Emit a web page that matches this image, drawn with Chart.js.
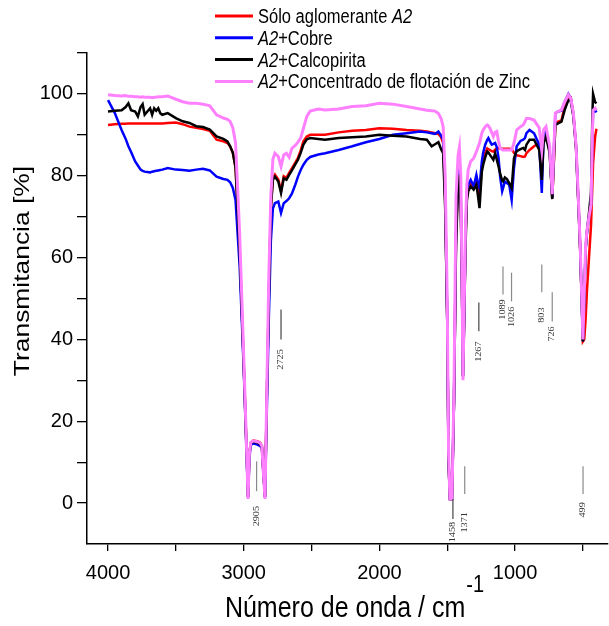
<!DOCTYPE html>
<html lang="es">
<head>
<meta charset="UTF-8">
<title>Espectros FTIR - aglomerante A2</title>
<script src="https://cdn.jsdelivr.net/npm/chart.js@4.4.2/dist/chart.umd.min.js"></script>
<style>
  html, body { margin: 0; padding: 0; background: #fff; }
  canvas { display: block; }
</style>
</head>
<body>
<canvas id="grafico" width="609" height="626"></canvas>
<script>
// numero de onda (cm-1), compartido por las cuatro curvas
const numeroOnda = [
  4000, 3950, 3900, 3870, 3850, 3830, 3800, 3780, 3760, 3745,
  3730, 3710, 3690, 3675, 3660, 3645, 3630, 3615, 3600, 3560,
  3500, 3450, 3400, 3350, 3300, 3250, 3200, 3150, 3120, 3100,
  3080, 3060, 3030, 3000, 2983, 2968, 2958, 2948, 2930, 2900,
  2880, 2866, 2856, 2843, 2830, 2815, 2800, 2785, 2770, 2745,
  2725, 2705, 2685, 2665, 2645, 2620, 2600, 2580, 2560, 2535,
  2510, 2450, 2400, 2300, 2200, 2100, 2000, 1900, 1800, 1700,
  1650, 1615, 1590, 1565, 1545, 1530, 1515, 1500, 1490, 1480,
  1465, 1450, 1435, 1420, 1410, 1400, 1392, 1384, 1375, 1365,
  1355, 1345, 1327, 1305, 1285, 1275, 1262, 1245, 1235, 1220,
  1205, 1197, 1185, 1172, 1160, 1147, 1135, 1122, 1110, 1095,
  1088, 1075, 1060, 1043, 1025, 1008, 995, 988, 960, 940,
  927, 916, 893, 860, 822, 803, 790, 772, 745, 726,
  713, 703, 683, 658, 634, 607, 590, 570, 550, 540,
  530, 520, 510, 500, 490, 480, 470, 455, 440, 430,
  425, 410, 400
];

// transmitancia (%)
const soloA2 = [
  92.4, 92.6, 92.7, 92.7, 92.8, 92.8, 92.8, 92.8, 92.8, 92.8,
  92.8, 92.8, 92.8, 92.8, 92.8, 92.8, 92.8, 92.8, 92.8, 92.9,
  93.0, 92.6, 92.0, 91.7, 91.4, 91.0, 88.8, 88.4, 88.0, 87.2,
  85.6, 82.0, 62, 34, 17, 1.5, 12, 14.8, 15.3, 15.1,
  14.8, 14.0, 8, 1.5, 25, 50, 72, 79.5, 80.3, 79.1,
  76.3, 79.9, 79.5, 80.7, 81.8, 83.2, 84.4, 86.2, 88.4, 89.6,
  90.0, 90.0, 90.0, 90.6, 91.0, 91.2, 91.6, 91.5, 91.2, 91.0,
  90.8, 90.6, 90.4, 90.2, 89.4, 88.0, 74, 45, 10, 1,
  1, 25, 65, 79, 81.1, 74, 55, 31, 45, 65,
  75, 77.0, 78.0, 77.4, 78.6, 77.0, 75.0, 82.0, 84.0, 85.6,
  86.7, 86.5, 86.3, 86.0, 85.9, 86.4, 86.7, 86.7, 86.6, 86.6,
  86.6, 86.6, 86.6, 86.6, 86.5, 85.6, 85.1, 85.0, 84.8, 84.6,
  84.7, 85.5, 86.3, 87.2, 88.0, 87.5, 89.0, 90.0, 86.0, 74.5,
  84.0, 92.8, 93.2, 93.5, 97.0, 99.3, 99.2, 95.0, 87.0, 79.0,
  71.0, 62.0, 51.0, 39.5, 40.0, 45.0, 52.0, 60.0, 68.0, 78.0,
  83.0, 89.5, 91.5
];
const a2Cobre = [
  98.5, 95.3, 91.2, 89.0, 87.2, 85.8, 83.5, 82.5, 81.5, 81.2,
  81.0, 80.9, 80.8, 81.0, 81.1, 81.2, 81.3, 81.4, 81.5, 81.9,
  81.5, 81.4, 81.2, 81.5, 81.7, 81.3, 79.8, 79.2, 79.0, 78.4,
  77.0, 74.0, 58, 33, 16, 1.5, 11, 14.2, 14.6, 14.3,
  14.0, 13.5, 8, 1.5, 22, 45, 64, 72, 73.3, 73.7,
  70.9, 73.3, 73.8, 74.5, 75.6, 77.8, 79.8, 81.4, 82.7, 83.9,
  84.6, 85.2, 85.5, 86.3, 87.2, 88.2, 89.0, 90.0, 90.4, 90.8,
  90.6, 90.4, 90.2, 90.8, 89.8, 88.8, 75, 45, 10, 1,
  1, 25, 66, 80, 82.3, 75, 55, 31, 45, 66,
  76, 77.8, 79.0, 77.4, 80.2, 78.5, 77.0, 83.5, 85.6, 87.6,
  88.8, 89.2, 88.4, 87.6, 87.8, 88.0, 87.0, 84.5, 79.8, 76.2,
  77.0, 78.6, 78.2, 77.8, 74.1, 81.9, 85.5, 87.2, 88.5, 88.8,
  89.2, 90.4, 91.2, 90.4, 87.6, 75.8, 89.6, 91.2, 86.3, 74.6,
  87.2, 95.3, 95.7, 95.9, 98.1, 100.0, 99.0, 94.9, 87.0, 79.0,
  71.0, 62.5, 51.0, 39.5, 50.0, 62.0, 66.0, 70.0, 73.0, 89.0,
  95.5, 96.0, 95.5
];
const a2Calcopirita = [
  95.7, 95.9, 96.0, 96.8, 97.7, 96.0, 95.7, 94.5, 96.8, 97.5,
  94.9, 95.7, 96.5, 94.9, 96.5, 95.9, 96.5, 95.3, 94.9, 95.3,
  94.1, 93.3, 92.9, 92.1, 91.9, 91.3, 89.6, 89.0, 88.4, 87.2,
  85.6, 82.0, 62, 34, 17, 1.5, 12, 14.6, 15.0, 14.8,
  14.5, 13.8, 8, 1.5, 25, 50, 72, 79, 79.8, 78.6,
  75.8, 79.4, 79.0, 80.2, 81.3, 82.8, 83.9, 85.6, 87.6, 88.9,
  89.2, 89.0, 88.8, 89.2, 89.4, 89.6, 90.0, 89.8, 89.6, 89.0,
  88.8, 87.2, 87.7, 88.2, 86.5, 85.5, 72, 45, 10, 1,
  1, 25, 63, 78, 80.2, 72, 55, 31, 45, 63,
  74, 76.2, 77.4, 76.6, 77.8, 75.5, 72.1, 81.0, 82.7, 84.5,
  85.9, 85.7, 85.1, 84.5, 83.9, 85.5, 84.0, 82.3, 80.5, 78.8,
  78.6, 79.6, 79.2, 78.2, 77.0, 84.3, 85.5, 86.0, 86.5, 86.8,
  86.3, 87.6, 88.8, 88.8, 86.3, 79.0, 88.0, 89.6, 85.5, 74.3,
  84.7, 92.4, 92.8, 93.2, 96.1, 98.5, 98.3, 94.5, 86.3, 78.0,
  70.5, 62.0, 51.0, 39.5, 50.0, 62.0, 66.5, 71.0, 76.0, 95.0,
  100.0, 98.0, 97.7
];
const a2Zinc = [
  99.8, 99.6, 99.5, 99.6, 99.4, 99.4, 99.3, 99.3, 99.2, 99.3,
  99.2, 99.2, 99.2, 99.1, 99.2, 99.2, 99.3, 99.3, 99.3, 99.5,
  98.7, 98.1, 97.7, 97.7, 97.5, 97.1, 94.9, 94.1, 93.8, 93.3,
  91.7, 88.0, 66, 36, 18, 1, 12, 14.8, 15.2, 15.0,
  14.7, 14.0, 8, 1, 27, 55, 75, 84, 85.5, 84.7,
  82.3, 85.1, 85.5, 84.5, 86.7, 87.4, 88.2, 89.2, 91.6, 94.5,
  95.8, 96.3, 96.1, 96.3, 96.9, 97.1, 97.7, 97.5, 96.9, 96.3,
  96.0, 95.9, 95.8, 95.2, 94.0, 92.0, 80, 50, 12, 1,
  1, 28, 75, 85, 87, 80, 58, 30, 48, 68,
  78, 81.5, 83.5, 84.3, 85.9, 86.8, 88.0, 90.4, 91.2, 92.0,
  92.4, 92.2, 91.6, 90.6, 89.6, 90.6, 90.8, 88.5, 86.7, 86.4,
  86.3, 86.3, 86.3, 86.3, 86.3, 88.0, 90.0, 91.2, 92.0, 92.4,
  93.2, 94.0, 94.0, 93.6, 91.7, 86.3, 91.2, 92.0, 87.2, 75.5,
  87.5, 95.3, 95.7, 96.1, 98.1, 99.8, 99.0, 95.3, 87.2, 79.5,
  71.5, 63.0, 52.0, 40.0, 51.0, 63.0, 66.5, 70.0, 73.0, 90.0,
  96.0, 96.5, 96.0
];

// nombres de la leyenda (*...* = cursiva)
const nombres = [
  'Sólo aglomerante *A2*',
  '*A2*+Cobre',
  '*A2*+Calcopirita',
  '*A2*+Concentrado de flotación de Zinc'
];
const colores = ['#ff0000', '#0000ff', '#000000', '#ff80ff'];

// ticks de los ejes
const ticksX = [4000, 3500, 3000, 2500, 2000, 1500, 1000, 500];
const etiquetasX = [4000, 3000, 2000, 1000];
const ticksY = [0, 10, 20, 30, 40, 50, 60, 70, 80, 90, 100, 110];
const etiquetasY = [0, 20, 40, 60, 80, 100];

// bandas marcadas: numero de onda, tramo de la raya y donde empieza el rotulo (en % T)
const bandas = [2905, 2725, 1458, 1371, 1267, 1089, 1026, 803, 726, 499];
const bandaDesde = [10.2, 47.3, 1.0, 9.0, 49.0, 57.8, 56.3, 58.3, 51.5, 9.0];
const bandaHasta = [2.9, 40.0, -3.9, 2.2, 42.0, 51.0, 49.3, 51.5, 44.4, 2.2];
const bandaRotulo = [-0.7, 37.6, -4.6, -2.2, 39.5, 49.8, 48.0, 47.8, 43.2, 0.2];
const bandaOscura = [false, true, true, false, true, false, false, false, false, false];

const series = [soloA2, a2Cobre, a2Calcopirita, a2Zinc];
const orden = [3, 2, 1, 0];   // rosa encima, luego negro, azul, rojo

const FUENTE = '"Liberation Sans", Arial, sans-serif';
const ESTIRA = 1.2;   // el texto del original esta algo estirado en vertical

function textoEstirado(ctx, texto, x, y, font, align) {
  ctx.save();
  ctx.translate(x, y);
  ctx.scale(1, ESTIRA);
  ctx.font = font;
  ctx.textAlign = align || 'left';
  ctx.textBaseline = 'alphabetic';
  ctx.fillText(texto, 0, 0);
  ctx.restore();
}

const decoracion = {
  id: 'decoracion',
  afterDraw(chart) {
    const ctx = chart.ctx;
    const sx = chart.scales.x, sy = chart.scales.y;
    const area = chart.chartArea;

    // rayas y rotulos de bandas
    bandas.forEach((b, i) => {
      const x = sx.getPixelForValue(b);
      ctx.save();
      ctx.strokeStyle = bandaOscura[i] ? '#444' : '#8a8a8a';
      ctx.lineWidth = 1.2;
      ctx.beginPath();
      ctx.moveTo(x, sy.getPixelForValue(bandaDesde[i]));
      ctx.lineTo(x, sy.getPixelForValue(bandaHasta[i]));
      ctx.stroke();
      ctx.translate(x, sy.getPixelForValue(bandaRotulo[i]));
      ctx.rotate(-Math.PI / 2);
      ctx.scale(ESTIRA, 1);
      ctx.fillStyle = '#333';
      ctx.font = '8.5px "Liberation Serif", "Times New Roman", serif';
      ctx.textAlign = 'right';
      ctx.textBaseline = 'middle';
      ctx.fillText(String(b), 0, 0);
      ctx.restore();
    });

    // leyenda
    nombres.forEach((nombre, i) => {
      const yc = 16 + i * 21.8;
      ctx.save();
      ctx.strokeStyle = colores[i];
      ctx.lineWidth = 3;
      ctx.beginPath();
      ctx.moveTo(215, yc);
      ctx.lineTo(253, yc);
      ctx.stroke();
      ctx.fillStyle = '#000';
      let x = 258;
      nombre.split('*').forEach((trozo, k) => {
        if (!trozo) return;
        const font = (k % 2 ? 'italic ' : '') + '16.5px ' + FUENTE;
        ctx.font = font;
        const w = ctx.measureText(trozo).width;
        textoEstirado(ctx, trozo, x, yc + 7, font);
        x += w;
      });
      ctx.restore();
    });

    // titulo eje x con superindice
    ctx.save();
    ctx.fillStyle = '#000';
    const fPrin = '25px ' + FUENTE, fSup = '20px ' + FUENTE;
    const tPrin = 'Número de onda / cm', tSup = '-1';
    ctx.font = fPrin;
    const wPrin = ctx.measureText(tPrin).width;
    ctx.font = fSup;
    const wSup = ctx.measureText(tSup).width;
    const x0 = (area.left + area.right) / 2 + 6.5 - (wPrin + wSup) / 2;
    textoEstirado(ctx, tPrin, x0, 617, fPrin);
    textoEstirado(ctx, tSup, x0 + wPrin + 1, 592, fSup);
    ctx.restore();

    // titulo eje y
    ctx.save();
    ctx.fillStyle = '#000';
    ctx.translate(23, 271);
    ctx.rotate(-Math.PI / 2);
    ctx.scale(ESTIRA, 1);
    ctx.font = '22px ' + FUENTE;
    ctx.textAlign = 'center';
    ctx.textBaseline = 'middle';
    ctx.fillText('Transmitancia [%]', 0, 0);
    ctx.restore();
  }
};

new Chart(document.getElementById('grafico'), {
  type: 'line',
  data: {
    datasets: series.map((s, i) => ({
      label: nombres[i].replace(/\*/g, ''),
      data: numeroOnda.map((x, j) => ({ x: x, y: s[j] })),
      borderColor: colores[i],
      borderWidth: i === 3 ? 3 : 2.5,
      pointRadius: 0,
      tension: 0,
      fill: false,
      order: orden[i]
    }))
  },
  options: {
    responsive: false,
    animation: false,
    devicePixelRatio: 1,
    layout: { padding: { top: 53, right: 1, left: 0, bottom: 0 } },
    plugins: {
      legend: { display: false },
      tooltip: { enabled: false }
    },
    scales: {
      x: {
        type: 'linear',
        reverse: true,
        min: 315,
        max: 4155,
        afterBuildTicks: axis => { axis.ticks = ticksX.map(v => ({ value: v })); },
        afterFit: axis => { axis.height = 82; },
        ticks: {
          callback: v => etiquetasX.includes(v) ? String(v) : '',
          color: '#000',
          font: { family: FUENTE, size: 20 },
          padding: 10,
          maxRotation: 0,
          autoSkip: false
        },
        grid: { drawOnChartArea: false, drawTicks: true, tickLength: 7, color: '#000', lineWidth: 1.3 },
        border: { color: '#000', width: 1.5 }
      },
      y: {
        min: -10,
        max: 110,
        afterBuildTicks: axis => { axis.ticks = ticksY.map(v => ({ value: v })); },
        afterFit: axis => { axis.width = 87; },
        ticks: {
          callback: v => etiquetasY.includes(v) ? String(v) : '',
          color: '#000',
          font: { family: FUENTE, size: 20 },
          padding: 4,
          autoSkip: false
        },
        grid: { drawOnChartArea: false, drawTicks: true, tickLength: 10, color: '#000', lineWidth: 1.3 },
        border: { color: '#000', width: 1.5 }
      }
    }
  },
  plugins: [decoracion]
});
</script>
</body>
</html>
